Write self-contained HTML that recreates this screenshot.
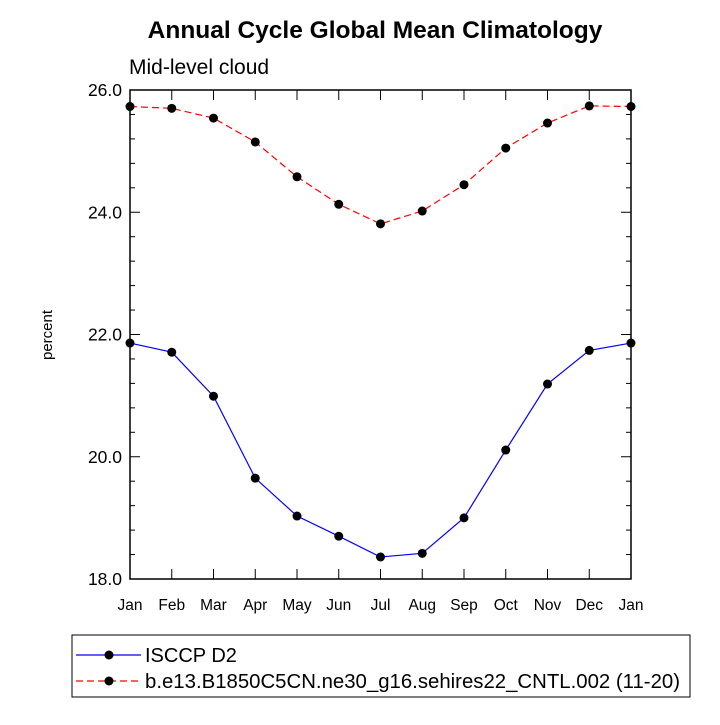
<!DOCTYPE html>
<html><head><meta charset="utf-8"><style>
body{margin:0;background:#fff;}
svg text{font-family:"Liberation Sans",Helvetica,sans-serif;}
</style></head><body>
<svg id="chart" width="720" height="720" viewBox="0 0 720 720">
<text x="375" y="38" text-anchor="middle" font-size="24.5" font-weight="bold">Annual Cycle Global Mean Climatology</text>
<text x="129" y="74" font-size="21">Mid-level cloud</text>
<text transform="translate(52,335) rotate(-90)" text-anchor="middle" font-size="15">percent</text>
<rect x="130" y="90" width="501" height="489" fill="none" stroke="#000" stroke-width="1.5"/>
<g id="axes"></g>
<g id="series"></g>
<rect x="72" y="635" width="618" height="62" fill="none" stroke="#000" stroke-width="1"/>
<g>
<line x1="76" y1="655" x2="141" y2="655" stroke="#0000ff" stroke-width="1.2"/>
<circle cx="109" cy="655" r="4.5" fill="#000"/>
<text x="145" y="662" font-size="20">ISCCP D2</text>
</g>
<g>
<line x1="76" y1="681" x2="141" y2="681" stroke="#ff0000" stroke-width="1.2" stroke-dasharray="7,4"/>
<circle cx="109" cy="681" r="4.5" fill="#000"/>
<text x="145" y="688" font-size="20" textLength="535" lengthAdjust="spacingAndGlyphs">b.e13.B1850C5CN.ne30_g16.sehires22_CNTL.002 (11-20)</text>
</g>
</svg>
<script>
const months=["Jan","Feb","Mar","Apr","May","Jun","Jul","Aug","Sep","Oct","Nov","Dec","Jan"];
const isccp=[21.86,21.71,20.99,19.65,19.03,18.70,18.36,18.42,19.00,20.11,21.19,21.74,21.86];
const model=[25.73,25.70,25.54,25.15,24.58,24.13,23.81,24.02,24.45,25.05,25.46,25.74,25.73];
const yTicks=[18,20,22,24,26];
const NS="http://www.w3.org/2000/svg";
const X0=130,X1=631,Y0=579,Y1=90,YMIN=18,YMAX=26;
function xs(i){return X0+(X1-X0)*i/(months.length-1);}
function ys(v){return Y0-(v-YMIN)/(YMAX-YMIN)*(Y0-Y1);}
function mk(tag,attrs,parent){const e=document.createElementNS(NS,tag);for(const k in attrs)e.setAttribute(k,attrs[k]);parent.appendChild(e);return e;}
const ax=document.getElementById('axes');
months.forEach((m,i)=>{
 const x=xs(i);
 const t1=mk('line',{x1:x,y1:Y0,x2:x,y2:Y0-10,stroke:'#000'},ax);
 
 
 const t2=mk('line',{x1:x,y1:Y1,x2:x,y2:Y1+10,stroke:'#000'},ax);
 
 
 const tx=mk('text',{x:x,y:Y0+31,'text-anchor':'middle','font-size':'15.5'},ax);
 tx.textContent=m;
 
 
});
for(let v=YMIN;v<=YMAX+1e-6;v+=0.4){
 const y=ys(v);const major=Math.abs(v-Math.round(v/2)*2)<1e-6;const len=major?10:5;
 const a=mk('line',{x1:X0,y1:y,x2:X0+len,y2:y,stroke:'#000'},ax);
 
 
 const b=mk('line',{x1:X1,y1:y,x2:X1-len,y2:y,stroke:'#000'},ax);
 
 
}
yTicks.forEach(v=>{
 const t=mk('text',{x:X0-8,y:ys(v)+6,'text-anchor':'end','font-size':'17.5'},ax);
 t.textContent=v.toFixed(1);
 
 
});
const sg=document.getElementById('series');
function draw(vals,color,dash,name){
 const p=mk('polyline',{points:vals.map((v,i)=>xs(i)+','+ys(v)).join(' '),fill:'none',stroke:color,'stroke-width':'1.2','stroke-dasharray':dash},sg);
 
 
 vals.forEach((v,i)=>{
  const c=mk('circle',{cx:xs(i),cy:ys(v),r:4.5,fill:'#000'},sg);
  
  
 });
}
draw(model,'#ff0000','7,4','model');
draw(isccp,'#0000ff','none','isccp');
</script>
</body></html>
